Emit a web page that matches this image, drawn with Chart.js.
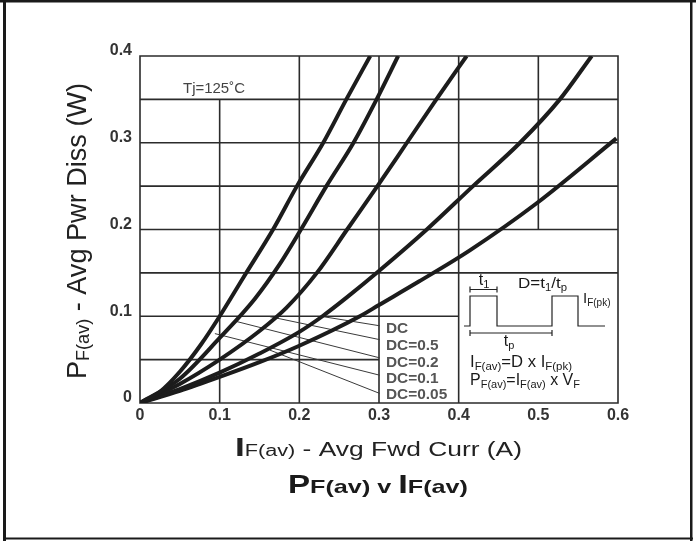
<!DOCTYPE html>
<html><head><meta charset="utf-8">
<script src="https://cdn.jsdelivr.net/npm/chart.js@4/dist/chart.umd.min.js"></script>
<style>html,body{margin:0;padding:0;background:#fff;}canvas{display:block;}</style>
</head><body>
<canvas id="c" width="696" height="541"></canvas>
<script>
// ---- data ----
const xTickLabels = ['0', '0.1', '0.2', '0.3', '0.4', '0.5', '0.6'];
const yTickLabels = ['0', '0.1', '0.2', '0.3', '0.4'];

const curveA_x = [0, 0.025, 0.05, 0.077, 0.1, 0.13, 0.167, 0.197, 0.23, 0.259, 0.289];
const curveA_y = [0, 0.013, 0.036, 0.068, 0.1, 0.145, 0.2, 0.25, 0.3, 0.35, 0.4];
const curveB_x = [0, 0.05, 0.1, 0.144, 0.176, 0.202, 0.234, 0.268, 0.297, 0.324];
const curveB_y = [0, 0.028, 0.075, 0.12, 0.161, 0.2, 0.25, 0.3, 0.35, 0.4];
const curveC_x = [0, 0.05, 0.1, 0.15, 0.184, 0.222, 0.26, 0.298, 0.335, 0.372, 0.41];
const curveC_y = [0, 0.022, 0.05, 0.083, 0.11, 0.15, 0.2, 0.25, 0.3, 0.35, 0.4];
const curveD_x = [0, 0.05, 0.1, 0.15, 0.2, 0.229, 0.26, 0.301, 0.36, 0.418, 0.477, 0.527, 0.567];
const curveD_y = [0, 0.016, 0.035, 0.057, 0.082, 0.1, 0.122, 0.153, 0.2, 0.25, 0.3, 0.35, 0.4];
const curveE_x = [0, 0.05, 0.1, 0.15, 0.2, 0.276, 0.3, 0.35, 0.414, 0.4975, 0.598];
const curveE_y = [0, 0.014, 0.03, 0.047, 0.066, 0.1, 0.113, 0.14, 0.176, 0.23, 0.305];

const dcLabels = ['DC', 'DC=0.5', 'DC=0.2', 'DC=0.1', 'DC=0.05'];
const leaderStartX = [0.23, 0.163, 0.121, 0.094, 0.163];
const leaderStartY = [0.0995, 0.0995, 0.094, 0.08, 0.061];
const leaderEndX = [0.301, 0.301, 0.301, 0.301, 0.301];
const leaderEndY = [0.089, 0.073, 0.052, 0.032, 0.011];

// ---- helpers ----
const FAM = '"Liberation Sans", Arial, Helvetica, sans-serif';
function pts(xs, ys) { return xs.map((x, i) => ({ x: x, y: ys[i] })); }

function rich(ctx, parts, x, y, o) {
  o = o || {};
  ctx.save();
  let W = 0; const ws = [];
  for (const p of parts) {
    ctx.font = (p.w || 'normal') + ' ' + p.s + 'px ' + FAM;
    const w = ctx.measureText(p.t).width; ws.push(w); W += w;
  }
  const sx = o.width ? o.width / W : (o.sx || 1);
  ctx.translate(x, y);
  if (o.rot) ctx.rotate(o.rot);
  ctx.scale(sx, 1);
  let cx = o.align === 'center' ? -W / 2 : 0;
  ctx.fillStyle = o.color || '#1a1a1a';
  ctx.textBaseline = 'alphabetic'; ctx.textAlign = 'left';
  parts.forEach((p, i) => {
    ctx.font = (p.w || 'normal') + ' ' + p.s + 'px ' + FAM;
    ctx.fillText(p.t, cx, p.dy || 0);
    cx += ws[i];
  });
  ctx.restore();
}

const curveStyle = { borderColor: '#1c1c1c', borderWidth: 4, pointRadius: 0, fill: false,
  cubicInterpolationMode: 'monotone', showLine: true };

const datasets = [
  Object.assign({ data: pts(curveA_x, curveA_y) }, curveStyle),
  Object.assign({ data: pts(curveB_x, curveB_y) }, curveStyle),
  Object.assign({ data: pts(curveC_x, curveC_y) }, curveStyle),
  Object.assign({ data: pts(curveD_x, curveD_y) }, curveStyle),
  Object.assign({ data: pts(curveE_x, curveE_y) }, curveStyle)
];
dcLabels.forEach((l, i) => {
  datasets.push({ data: [{ x: leaderStartX[i], y: leaderStartY[i] }, { x: leaderEndX[i], y: leaderEndY[i] }],
    borderColor: '#3a3a3a', borderWidth: 1, pointRadius: 0, showLine: true, fill: false });
});

const decor = {
  id: 'decor',
  beforeDraw(chart) {
    const c = chart.ctx;
    c.save(); c.fillStyle = '#fff'; c.fillRect(0, 0, chart.width, chart.height); c.restore();
  },
  beforeDatasetsDraw(chart) {
    const c = chart.ctx, X = chart.scales.x, Y = chart.scales.y;
    const hSeg = [[0.4, 0, 0.6], [0.35, 0, 0.6], [0.3, 0, 0.6], [0.25, 0, 0.6], [0.2, 0, 0.6],
      [0.15, 0, 0.6], [0.1, 0, 0.4], [0.05, 0, 0.3], [0, 0, 0.6]];
    const vSeg = [[0, 0, 0.4], [0.1, 0, 0.35], [0.2, 0, 0.4], [0.3, 0, 0.4], [0.4, 0, 0.4],
      [0.5, 0.2, 0.4], [0.6, 0, 0.4]];
    c.save();
    c.strokeStyle = '#2b2b2b'; c.lineWidth = 1.6; c.lineCap = 'square';
    c.beginPath();
    hSeg.forEach(s => { const y = Y.getPixelForValue(s[0]);
      c.moveTo(X.getPixelForValue(s[1]), y); c.lineTo(X.getPixelForValue(s[2]), y); });
    vSeg.forEach(s => { const x = X.getPixelForValue(s[0]);
      c.moveTo(x, Y.getPixelForValue(s[1])); c.lineTo(x, Y.getPixelForValue(s[2])); });
    c.stroke();
    c.restore();
  },
  afterDraw(chart) {
    const c = chart.ctx;
    // Tj label
    rich(c, [{ t: 'Tj=125˚C', s: 15 }], 183, 93, { color: '#444', width: 62 });
    // DC labels
    const dcBase = [333, 350, 366.5, 382.5, 398.5];
    dcLabels.forEach((l, i) => rich(c, [{ t: l, s: 14, w: 'bold' }], 386, dcBase[i], { color: '#555', sx: 1.1 }));
    // waveform inset
    c.save();
    c.strokeStyle = '#222'; c.lineWidth = 1.2;
    c.beginPath();
    c.moveTo(464, 326); c.lineTo(470, 326); c.lineTo(470, 296); c.lineTo(497, 296); c.lineTo(497, 326);
    c.lineTo(552, 326); c.lineTo(552, 296); c.lineTo(578, 296); c.lineTo(578, 326); c.lineTo(605, 326);
    c.moveTo(470, 289.5); c.lineTo(497, 289.5);
    c.moveTo(470, 286.5); c.lineTo(470, 292.5); c.moveTo(497, 286.5); c.lineTo(497, 292.5);
    c.moveTo(470, 333); c.lineTo(552, 333);
    c.moveTo(470, 330); c.lineTo(470, 336); c.moveTo(552, 330); c.lineTo(552, 336);
    c.stroke();
    c.restore();
    rich(c, [{ t: 't', s: 16 }, { t: '1', s: 11, dy: 3 }], 484, 285, { align: 'center' });
    rich(c, [{ t: 'D=t', s: 15 }, { t: '1', s: 10, dy: 3 }, { t: '/t', s: 15 }, { t: 'p', s: 10, dy: 3 }], 518, 288, { width: 49 });
    rich(c, [{ t: 'I', s: 15 }, { t: 'F(pk)', s: 10, dy: 3 }], 583, 303);
    rich(c, [{ t: 't', s: 16 }, { t: 'p', s: 11, dy: 3 }], 509, 346, { align: 'center' });
    rich(c, [{ t: 'I', s: 16 }, { t: 'F(av)', s: 11, dy: 3 }, { t: '=D x I', s: 16 }, { t: 'F(pk)', s: 11, dy: 3 }], 470, 367, { width: 102 });
    rich(c, [{ t: 'P', s: 16 }, { t: 'F(av)', s: 11, dy: 3 }, { t: '=I', s: 16 }, { t: 'F(av)', s: 11, dy: 3 },
      { t: ' x V', s: 16 }, { t: 'F', s: 11, dy: 3 }], 470, 385, { width: 110 });
    // axis titles
    rich(c, [{ t: 'P', s: 27 }, { t: 'F(av)', s: 18, dy: 3 }, { t: ' - Avg Pwr Diss (W)', s: 27 }], 86, 231,
      { rot: -Math.PI / 2, align: 'center', width: 296, color: '#222' });
    rich(c, [{ t: 'I', s: 26, w: 'bold' }, { t: 'F(av)', s: 16 }, { t: ' - Avg Fwd Curr (A)', s: 19.5 }], 235, 456,
      { width: 287, color: '#222' });
    rich(c, [{ t: 'P', s: 25, w: 'bold' }, { t: 'F(av) v ', s: 19, w: 'bold' }, { t: 'I', s: 26, w: '900' },
      { t: 'F(av)', s: 19, w: 'bold' }], 288, 493, { width: 180, color: '#1a1a1a' });
    // outer frame
    c.save();
    c.fillStyle = '#1a1a1a';
    c.fillRect(0, 0, 696, 2.5);
    c.fillRect(3, 0, 3, 541);
    c.fillRect(690, 0, 2.5, 541);
    c.fillRect(3, 537.5, 690, 2);
    c.restore();
  }
};

new Chart(document.getElementById('c'), {
  type: 'scatter',
  data: { datasets: datasets },
  options: {
    responsive: false, animation: false, devicePixelRatio: 1,
    layout: { padding: { left: 0, top: 56, right: 78, bottom: 0 } },
    plugins: { legend: { display: false }, tooltip: { enabled: false } },
    scales: {
      x: {
        type: 'linear', min: 0, max: 0.6,
        grid: { display: false, drawTicks: false }, border: { display: false },
        ticks: { stepSize: 0.1, padding: 3, color: '#333', maxRotation: 0,
          font: { size: 16, weight: 'bold', family: FAM },
          callback: v => xTickLabels[Math.round(v * 10)] },
        afterFit: s => { s.height = 138; }
      },
      y: {
        type: 'linear', min: 0, max: 0.4,
        grid: { display: false, drawTicks: false }, border: { display: false },
        ticks: { stepSize: 0.1, padding: 8, labelOffset: -5, color: '#333',
          font: { size: 16, weight: 'bold', family: FAM },
          callback: v => yTickLabels[Math.round(v * 10)] },
        afterFit: s => { s.width = 140; }
      }
    }
  },
  plugins: [decor]
});
</script>
</body></html>
